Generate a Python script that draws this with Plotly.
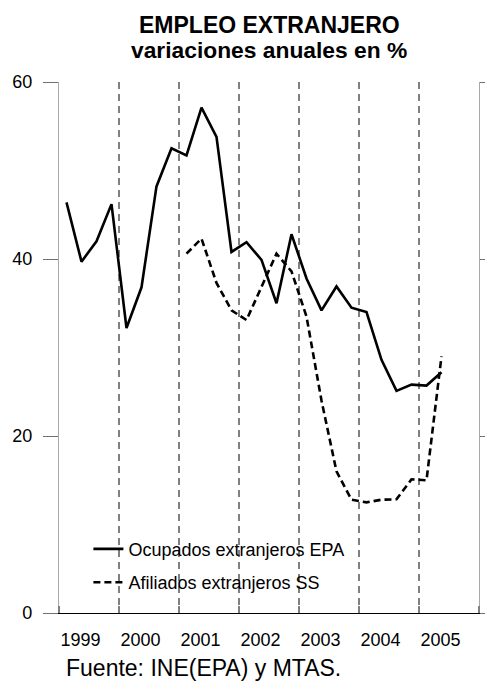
import plotly.graph_objects as go

# ---- data (quarterly, annual % change) ----
years = [1999, 2000, 2001, 2002, 2003, 2004, 2005]
year_labels = ["1999", "2000", "2001", "2002", "2003", "2004", "2005"]

# Ocupados extranjeros EPA: 1999Q1 .. 2005Q2
epa_start = 1999
epa_values = [46.4, 39.7, 42.0, 46.2,
              32.2, 36.8, 48.2, 52.5,
              51.7, 57.1, 53.8, 40.8,
              41.9, 39.9, 35.0, 42.8,
              37.8, 34.2, 36.9, 34.5,
              34.0, 28.6, 25.1, 25.8,
              25.7, 27.2]

# Afiliados extranjeros SS: 2001Q1 .. 2005Q2
ss_start = 2001
ss_values = [40.6, 42.3, 37.3, 34.2,
             33.1, 36.9, 40.6, 38.6,
             33.5, 24.0, 16.0, 12.8,
             12.5, 12.8, 12.85, 15.1,
             15.0, 29.0]

y_ticks = [0, 20, 40, 60]

title_lines = ["<b>EMPLEO EXTRANJERO</b>", "<b>variaciones anuales en %</b>"]
source_text = "Fuente: INE(EPA) y MTAS."


def quarter_x(start_year, n):
    # centre of each quarter, in fractional years
    return [start_year + (i // 4) + (i % 4) * 0.25 + 0.125 for i in range(n)]


FONT = "Liberation Sans, Arial, sans-serif"
PLOT_TOP, PLOT_BOTTOM, PLOT_H = 82, 613, 531


def py(pixel_y):
    return (PLOT_BOTTOM - pixel_y) / PLOT_H


fig = go.Figure()
fig.add_trace(go.Scatter(
    x=quarter_x(epa_start, len(epa_values)), y=epa_values,
    mode="lines", name="Ocupados extranjeros EPA",
    line=dict(color="black", width=2.6),
    legendgroup="a",
))
fig.add_trace(go.Scatter(
    x=quarter_x(ss_start, len(ss_values)), y=ss_values,
    mode="lines", name="Afiliados extranjeros SS",
    line=dict(color="black", width=2.6, dash="7px,4px"),
    legendgroup="b",
))

boundaries = years + [years[-1] + 1]
label_pos = [y + 0.36 for y in years]

fig.update_layout(
    width=485, height=682,
    margin=dict(l=59, r=6, t=82, b=69, autoexpand=False),
    paper_bgcolor="white", plot_bgcolor="white",
    font=dict(family=FONT, color="black", size=18),
    showlegend=True,
    legend=dict(
        x=0.07, y=0.155, xanchor="left", yanchor="top",
        bgcolor="rgba(0,0,0,0)", borderwidth=0,
        font=dict(family=FONT, size=18, color="black"),
        traceorder="grouped", tracegroupgap=7,
        itemwidth=30,
    ),
    xaxis=dict(
        range=[boundaries[0], boundaries[-1]],
        tickmode="array", tickvals=label_pos, ticktext=year_labels,
        ticks="", showgrid=False, zeroline=False,
        showline=True, linecolor="black", linewidth=1.2,
        tickfont=dict(family=FONT, size=18, color="black"),
        ticklabelstandoff=10, automargin=False,
        minor=dict(
            tickmode="array", tickvals=boundaries,
            ticks="inside", ticklen=7, tickcolor="#808080", tickwidth=1.5,
            showgrid=True, gridcolor="#808080", gridwidth=1.5,
            griddash="7px,5px",
        ),
    ),
    yaxis=dict(
        range=[0, 60],
        tickmode="array", tickvals=y_ticks,
        ticks="outside", ticklen=15, tickcolor="#707070", tickwidth=1.2,
        showgrid=False, zeroline=False,
        showline=True, linecolor="#a8a8a8", linewidth=1.2,
        mirror="ticks", automargin=False,
        tickfont=dict(family=FONT, size=18, color="black"),
        ticklabelstandoff=7,
    ),
    annotations=[
        dict(text=title_lines[0], xref="paper", yref="paper",
             x=0.5, y=py(25), xanchor="center", yanchor="middle",
             showarrow=False, font=dict(family=FONT, size=23, color="black")),
        dict(text=title_lines[1], xref="paper", yref="paper",
             x=0.5, y=py(50.5), xanchor="center", yanchor="middle",
             showarrow=False, font=dict(family=FONT, size=22.8, color="black")),
        dict(text=source_text, xref="paper", yref="paper",
             x=(64 - 59) / 420, y=py(668),
             xanchor="left", yanchor="middle", showarrow=False,
             font=dict(family=FONT, size=23, color="black")),
    ],
)

fig.write_html("out.html",
               config={"displayModeBar": False},
               post_script="document.body.style.margin='0';"
                           "document.body.style.overflow='hidden';")
